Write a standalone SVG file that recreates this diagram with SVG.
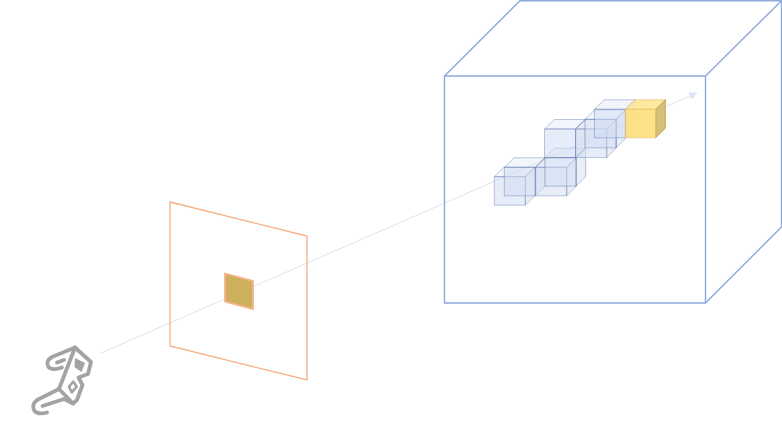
<svg xmlns="http://www.w3.org/2000/svg" width="782" height="443" viewBox="0 0 782 443">
<style>
.bc{fill:none;stroke:#8ea9db;stroke-width:1.400}
.f{fill:#cfdcf2;fill-opacity:.5}
.t{fill:#e2e9f7;fill-opacity:.45}
.r{fill:#cbd7ec;fill-opacity:.4}
.cube path{stroke:#4f6ea8;stroke-opacity:.42;stroke-width:.9;stroke-linejoin:round}
.ic{fill:none;stroke:#a3a3a3;stroke-width:3.800;stroke-linejoin:round;stroke-linecap:round}
</style>
<defs>
<marker id="ah" markerUnits="userSpaceOnUse" markerWidth="9" markerHeight="9" refX="7.500" refY="4" orient="auto"><path d="M0 0L8 4L0 8Z" fill="#dbe4f5"/></marker>
<g id="c" class="cube">
<path class="t" d="M0 0L9.700 -9.500H40.700L31 0Z"/>
<path class="r" d="M31 0L40.700 -9.500V19L31 28.500Z"/>
<path class="f" d="M0 0H31V28.500H0Z"/>
</g>
</defs>
<g id="connectors">
<path d="M101 353L697 93" fill="none" stroke="#dfe3ee" stroke-width="1" marker-end="url(#ah)"/>
</g>
<g id="viewer"><g class="ic">
<path d="M75 347.500L52 357Q45 361 48.500 367Q52 371 62 367.500"/>
<path d="M57 362.500L64 360"/>
<path d="M75 347.500L91 362L88 374L78.500 377.500L82.500 385L77 400L73 403.500L59 389L75 347.500"/>
<path d="M59 389L37 400Q31 405 34.500 411Q38 415 47 412.500"/>
<path d="M42.500 406L64 399L73 403.500"/>
<path d="M73.300 381.600L76.700 386.700L71.700 392.300L69 386.700Z" stroke-width="2.600"/>
</g>
<path d="M75 358L85 363L81.500 372L74.500 367Z" fill="#a3a3a3"/>
</g>
<g id="panel">
<path d="M170 202L307 236V380L170 346Z" fill="none" stroke="#f4b183" stroke-width="1.300"/>
</g>
<g id="pixel">
<path d="M225 273.500L253 281V309L225 301.500Z" fill="#ccb05c" stroke="#f6b48c" stroke-width="1.800"/>
</g>
<g id="volume">
<path class="bc" d="M444.500 76H705.500V303H444.500Z"/>
<path class="bc" d="M444.500 76L520 .7H781.500L705.500 76M781.500 .7V227L705.500 303"/>
</g>
<g id="voxel-a"><use href="#c" x="494.300" y="176.700"/></g>
<g id="voxel-b"><use href="#c" x="504.300" y="167.300"/></g>
<g id="voxel-c"><use href="#c" x="535.700" y="167.300"/></g>
<g id="voxel-d"><use href="#c" x="545" y="157.700"/></g>
<g id="voxel-e"><use href="#c" x="544.500" y="129"/></g>
<g id="voxel-f"><use href="#c" x="575.700" y="129"/></g>
<g id="voxel-g"><use href="#c" x="585" y="119.300"/></g>
<g id="voxel-h"><use href="#c" x="594.500" y="109.300"/></g>
<g id="voxel-target">
<path d="M625.300 109.300L635 99.800H665.500L656 109.300Z" fill="#ffe596" fill-opacity=".9" stroke="#d6b656" stroke-opacity=".6" stroke-width=".8"/>
<path d="M655.700 109.300L665.400 99.800V128.300L655.700 137.800Z" fill="#d6bf78" stroke="#b89a4c" stroke-width=".8"/>
<path d="M625.300 109.300H655.700V137.800H625.300Z" fill="#ffde7e" fill-opacity=".92" stroke="#d6b656" stroke-opacity=".6" stroke-width=".8"/>
</g>
</svg>
